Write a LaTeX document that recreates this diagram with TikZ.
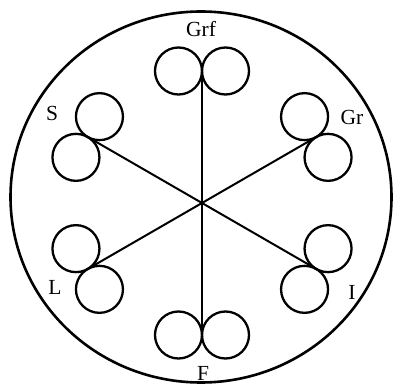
\documentclass[tikz,border=0pt]{standalone}
\usepackage{fontspec}
\setmainfont{Liberation Serif}
\begin{document}
\begin{tikzpicture}[x=1pt,y=-1pt,
  ring/.style={draw,circle,minimum size=47pt,inner sep=0pt,line width=2.3pt},
  spoke/.style={line width=2pt},
  lbl/.style={font=\fontsize{21.5}{24}\selectfont,inner sep=0pt}]
\useasboundingbox (0,0) rectangle (394,390);
\draw[line width=2.6pt] (201,197) ellipse [x radius=190.5pt, y radius=185.5pt];
% touch points of the pairs
\coordinate (Tgrf) at (202,71);
\coordinate (Tgr) at (316.3,137);
\coordinate (Ti) at (316.3,269);
\coordinate (Tf) at (202,335);
\coordinate (Tl) at (87.7,269);
\coordinate (Ts) at (87.7,137);
% spokes
\draw[spoke] (Tgrf) -- (Tf);
\draw[spoke] (Ts) -- (Ti);
\draw[spoke] (Tgr) -- (Tl);
% pairs of circles
\node[ring] (grf1) at (178.5,71) {};
\node[ring] (grf2) at (225.5,71) {};
\node[ring] (gr1) at (304.55,116.65) {};
\node[ring] (gr2) at (328.05,157.35) {};
\node[ring] (i1) at (328.05,248.65) {};
\node[ring] (i2) at (304.55,289.35) {};
\node[ring] (f1) at (178.5,335) {};
\node[ring] (f2) at (225.5,335) {};
\node[ring] (l1) at (75.95,248.65) {};
\node[ring] (l2) at (99.45,289.35) {};
\node[ring] (s1) at (99.45,116.65) {};
\node[ring] (s2) at (75.95,157.35) {};
% labels
\node[lbl] (lgrf) at (201,29) {Grf};
\node[lbl] (lgr) at (352,117) {Gr};
\node[lbl] (ls) at (52,113) {S};
\node[lbl] (ll) at (55,287) {L};
\node[lbl] (li) at (352,292) {I};
\node[lbl] (lf) at (203,373) {F};
\end{tikzpicture}
\end{document}
